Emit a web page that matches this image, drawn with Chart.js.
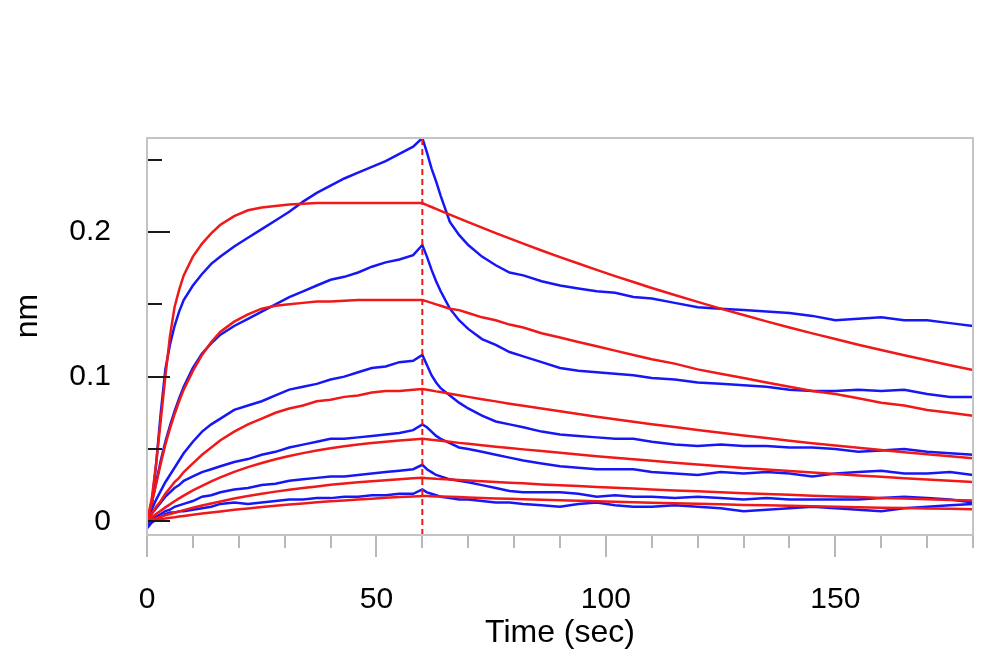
<!DOCTYPE html>
<html>
<head>
<meta charset="utf-8">
<title>Binding kinetics</title>
<script src="https://cdn.jsdelivr.net/npm/chart.js@4.4.1/dist/chart.umd.min.js"></script>
<style>
  html, body { margin: 0; padding: 0; background: #fff; }
  #wrap { width: 1000px; height: 670px; position: relative; }
</style>
</head>
<body>
<div id="wrap"><canvas id="myChart"></canvas></div>
<script>

// Time axis (seconds) shared by every trace
var timeSec = [0, 1, 2, 3, 4, 5, 6, 7, 8, 10, 12, 14, 16, 19, 22, 25, 28, 31, 34, 37, 40, 43, 46, 49, 52, 55, 58, 60,
  61, 62, 63, 64, 66, 68, 70, 73, 76, 79, 82, 86, 90, 94, 98, 102, 106, 110,
  115, 120, 125, 130, 135, 140, 145, 150, 155, 160, 165, 170, 175, 180];

// Measured responses (nm), blue, highest concentration first
var meas1 = [-0.004, 0.010, 0.040, 0.075, 0.105, 0.122, 0.135, 0.145, 0.153, 0.163, 0.171, 0.178, 0.183, 0.190, 0.196, 0.202, 0.208, 0.214, 0.221, 0.227, 0.232, 0.237, 0.241, 0.245, 0.249, 0.254, 0.259, 0.265,
  0.255, 0.244, 0.235, 0.225, 0.207, 0.198, 0.191, 0.183, 0.177, 0.172, 0.170, 0.166, 0.163, 0.161, 0.159, 0.158, 0.155, 0.154,
  0.151, 0.148, 0.147, 0.146, 0.145, 0.144, 0.142, 0.139, 0.140, 0.141, 0.139, 0.139, 0.137, 0.135];
var meas2 = [-0.003, 0.012, 0.027, 0.042, 0.055, 0.066, 0.076, 0.085, 0.093, 0.106, 0.116, 0.123, 0.129, 0.135, 0.140, 0.145, 0.150, 0.155, 0.159, 0.163, 0.167, 0.169, 0.172, 0.176, 0.179, 0.181, 0.184, 0.191,
  0.183, 0.174, 0.166, 0.159, 0.147, 0.139, 0.133, 0.126, 0.122, 0.117, 0.114, 0.110, 0.106, 0.104, 0.103, 0.102, 0.101, 0.099,
  0.098, 0.096, 0.095, 0.094, 0.093, 0.091, 0.090, 0.090, 0.091, 0.090, 0.091, 0.088, 0.086, 0.086];
var meas3 = [-0.002, 0.008, 0.015, 0.021, 0.027, 0.032, 0.037, 0.042, 0.047, 0.055, 0.062, 0.067, 0.071, 0.077, 0.080, 0.083, 0.087, 0.091, 0.093, 0.095, 0.098, 0.100, 0.103, 0.106, 0.107, 0.110, 0.111, 0.115,
  0.108, 0.101, 0.096, 0.092, 0.087, 0.082, 0.078, 0.073, 0.069, 0.067, 0.065, 0.062, 0.060, 0.059, 0.058, 0.057, 0.057, 0.055,
  0.053, 0.052, 0.053, 0.052, 0.052, 0.051, 0.051, 0.050, 0.048, 0.049, 0.050, 0.048, 0.047, 0.046];
var meas4 = [-0.003, 0.005, 0.009, 0.013, 0.017, 0.020, 0.023, 0.025, 0.028, 0.031, 0.034, 0.036, 0.038, 0.041, 0.043, 0.046, 0.048, 0.051, 0.053, 0.055, 0.057, 0.057, 0.058, 0.059, 0.060, 0.061, 0.063, 0.067,
  0.065, 0.062, 0.059, 0.057, 0.054, 0.051, 0.050, 0.048, 0.046, 0.044, 0.042, 0.040, 0.038, 0.037, 0.036, 0.036, 0.036, 0.034,
  0.033, 0.032, 0.034, 0.033, 0.034, 0.033, 0.031, 0.033, 0.034, 0.035, 0.033, 0.033, 0.034, 0.032];
var meas5 = [-0.004, 0.002, 0.003, 0.005, 0.007, 0.008, 0.010, 0.011, 0.012, 0.014, 0.017, 0.018, 0.020, 0.022, 0.023, 0.025, 0.026, 0.028, 0.029, 0.030, 0.031, 0.031, 0.032, 0.033, 0.034, 0.035, 0.036, 0.039,
  0.036, 0.034, 0.032, 0.031, 0.029, 0.028, 0.027, 0.025, 0.023, 0.021, 0.020, 0.020, 0.020, 0.019, 0.017, 0.018, 0.017, 0.017,
  0.016, 0.017, 0.016, 0.015, 0.016, 0.015, 0.015, 0.015, 0.015, 0.016, 0.017, 0.016, 0.015, 0.013];
var meas6 = [-0.005, -0.001, 0.001, 0.003, 0.005, 0.006, 0.006, 0.007, 0.007, 0.008, 0.009, 0.010, 0.012, 0.013, 0.012, 0.013, 0.014, 0.015, 0.015, 0.016, 0.016, 0.017, 0.017, 0.018, 0.018, 0.019, 0.019, 0.022,
  0.020, 0.019, 0.018, 0.017, 0.016, 0.015, 0.015, 0.014, 0.013, 0.013, 0.012, 0.011, 0.010, 0.012, 0.013, 0.011, 0.010, 0.010,
  0.011, 0.010, 0.009, 0.007, 0.008, 0.009, 0.010, 0.009, 0.008, 0.007, 0.009, 0.010, 0.011, 0.012];

// Fitted curves (nm), red
var fit1 = [0, 0.015, 0.040, 0.070, 0.100, 0.128, 0.148, 0.160, 0.170, 0.183, 0.192, 0.199, 0.205, 0.211, 0.215, 0.217, 0.218, 0.219, 0.2195, 0.22, 0.22, 0.22, 0.22, 0.22, 0.22, 0.22, 0.22, 0.22,
  0.2186, 0.2173, 0.216, 0.2146, 0.212, 0.2094, 0.2068, 0.203, 0.1992, 0.1956, 0.192, 0.1872, 0.1826, 0.1782, 0.1738, 0.1695, 0.1654, 0.1613,
  0.1564, 0.1517, 0.147, 0.1426, 0.1382, 0.134, 0.1299, 0.126, 0.1221, 0.1184, 0.1148, 0.1113, 0.1079, 0.1046];
var fit2 = [0, 0.012, 0.026, 0.040, 0.053, 0.064, 0.074, 0.083, 0.091, 0.104, 0.115, 0.124, 0.131, 0.138, 0.143, 0.147, 0.149, 0.150, 0.151, 0.152, 0.152, 0.1525, 0.153, 0.153, 0.153, 0.153, 0.153, 0.153,
  0.152, 0.151, 0.150, 0.149, 0.147, 0.146, 0.144, 0.141, 0.139, 0.136, 0.134, 0.130, 0.127, 0.124, 0.121, 0.118, 0.115, 0.112,
  0.109, 0.105, 0.102, 0.099, 0.096, 0.093, 0.090, 0.088, 0.085, 0.082, 0.080, 0.077, 0.075, 0.073];
var fit3 = [0, 0.005, 0.010, 0.014, 0.019, 0.023, 0.027, 0.030, 0.034, 0.040, 0.046, 0.051, 0.056, 0.062, 0.067, 0.071, 0.075, 0.078, 0.080, 0.083, 0.084, 0.086, 0.087, 0.089, 0.090, 0.090, 0.091, 0.0915,
  0.091, 0.0904, 0.0898, 0.0893, 0.0882, 0.0871, 0.086, 0.0844, 0.0829, 0.0813, 0.0798, 0.0779, 0.076, 0.0741, 0.0723, 0.0705, 0.0688, 0.0671,
  0.0651, 0.0631, 0.0612, 0.0593, 0.0575, 0.0557, 0.054, 0.0524, 0.0508, 0.0492, 0.0477, 0.0463, 0.0449, 0.0435];
var fit4 = [0, 0.0026, 0.005, 0.0073, 0.0096, 0.0117, 0.0138, 0.0158, 0.0177, 0.0213, 0.0245, 0.0276, 0.0303, 0.0341, 0.0374, 0.0403, 0.0429, 0.0451, 0.0471, 0.0489, 0.0505, 0.0518, 0.053, 0.0541, 0.055, 0.0559, 0.0566, 0.057,
  0.0567, 0.0563, 0.056, 0.0556, 0.0549, 0.0542, 0.0536, 0.0526, 0.0516, 0.0507, 0.0497, 0.0485, 0.0473, 0.0462, 0.045, 0.0439, 0.0428, 0.0418,
  0.0405, 0.0393, 0.0381, 0.0369, 0.0358, 0.0347, 0.0337, 0.0326, 0.0316, 0.0307, 0.0297, 0.0288, 0.028, 0.0271];
var fit5 = [0, 0.0011, 0.0021, 0.0031, 0.0041, 0.005, 0.0059, 0.0068, 0.0077, 0.0093, 0.0109, 0.0123, 0.0137, 0.0157, 0.0174, 0.019, 0.0205, 0.0218, 0.023, 0.0241, 0.0252, 0.0261, 0.027, 0.0277, 0.0284, 0.0291, 0.0297, 0.030,
  0.0298, 0.0296, 0.0294, 0.0293, 0.0289, 0.0285, 0.0282, 0.0277, 0.0272, 0.0267, 0.0262, 0.0255, 0.0249, 0.0243, 0.0237, 0.0231, 0.0226, 0.022,
  0.0213, 0.0207, 0.0201, 0.0194, 0.0188, 0.0183, 0.0177, 0.0172, 0.0167, 0.0161, 0.0157, 0.0152, 0.0147, 0.0143];
var fit6 = [0, 0.0005, 0.001, 0.0015, 0.0019, 0.0024, 0.0028, 0.0033, 0.0037, 0.0045, 0.0053, 0.0061, 0.0068, 0.0079, 0.0089, 0.0098, 0.0107, 0.0116, 0.0123, 0.0131, 0.0138, 0.0144, 0.015, 0.0156, 0.0162, 0.0167, 0.0172, 0.0175,
  0.0174, 0.0173, 0.0172, 0.0171, 0.0169, 0.0167, 0.0164, 0.0161, 0.0158, 0.0156, 0.0153, 0.0149, 0.0145, 0.0142, 0.0138, 0.0135, 0.0132, 0.0128,
  0.0124, 0.0121, 0.0117, 0.0113, 0.011, 0.0107, 0.0103, 0.01, 0.0097, 0.0094, 0.0091, 0.0089, 0.0086, 0.0083];

// End of association step (dashed marker)
var assocEnd = 60;

// Axis ranges and ticks
var xMin = 0, xMax = 180;
var yMin = -0.0095, yMax = 0.265;
var xLabelTicks = [0, 50, 100, 150];
var xTickMarks = [0, 10, 20, 30, 40, 50, 60, 70, 80, 90, 100, 110, 120, 130, 140, 150, 160, 170, 180];
var yLabelTicks = [0, 0.1, 0.2];
var yTickMarks = [0, 0.05, 0.1, 0.15, 0.2, 0.25];

var BLUE = '#1717f5';
var RED = '#f01818';
var FONT = "'Liberation Sans', Arial, sans-serif";

function pairs(vals) {
  return timeSec.map(function (t, i) { return { x: t, y: vals[i] }; });
}

function line(vals, color) {
  return {
    data: pairs(vals),
    borderColor: color,
    borderWidth: 2.5,
    pointRadius: 0,
    tension: 0,
    fill: false
  };
}

// red fits first so they end up drawn on top
var datasets = [
  {
    data: [{ x: assocEnd, y: yMin }, { x: assocEnd, y: yMax }],
    borderColor: RED,
    borderWidth: 2,
    borderDash: [6, 4],
    pointRadius: 0,
    fill: false
  },
  line(fit1, RED), line(fit2, RED), line(fit3, RED),
  line(fit4, RED), line(fit5, RED), line(fit6, RED),
  line(meas1, BLUE), line(meas2, BLUE), line(meas3, BLUE),
  line(meas4, BLUE), line(meas5, BLUE), line(meas6, BLUE)
];

// frame, tick marks and the y axis title
var framePlugin = {
  id: 'frame',
  afterDatasetsDraw: function (chart) {
    var ctx = chart.ctx;
    var a = chart.chartArea;
    var xs = chart.scales.x, ys = chart.scales.y;
    ctx.save();

    // x ticks below the frame
    ctx.strokeStyle = '#b8b8b8';
    ctx.lineWidth = 2;
    xTickMarks.forEach(function (v) {
      var px = Math.round(xs.getPixelForValue(v));
      var len = xLabelTicks.indexOf(v) >= 0 ? 22 : 13;
      ctx.beginPath();
      ctx.moveTo(px, a.bottom);
      ctx.lineTo(px, a.bottom + len);
      ctx.stroke();
    });

    // y ticks inside the frame
    ctx.strokeStyle = '#1a1a1a';
    yTickMarks.forEach(function (v) {
      var py = Math.round(ys.getPixelForValue(v));
      var len = yLabelTicks.indexOf(v) >= 0 ? 23 : 15;
      ctx.beginPath();
      ctx.moveTo(a.left, py);
      ctx.lineTo(a.left + len, py);
      ctx.stroke();
    });

    // frame
    ctx.strokeStyle = '#c4c4c4';
    ctx.lineWidth = 2;
    ctx.strokeRect(a.left, a.top, a.right - a.left, a.bottom - a.top);

    // y title
    ctx.fillStyle = '#000';
    ctx.font = '32px ' + FONT;
    ctx.textAlign = 'center';
    ctx.textBaseline = 'middle';
    ctx.translate(28, 316);
    ctx.rotate(-Math.PI / 2);
    ctx.fillText('nm', 0, 0);
    ctx.restore();
  }
};

var ctx = document.getElementById('myChart');
var myChart = new Chart(ctx, {
  type: 'line',
  data: { datasets: datasets },
  plugins: [framePlugin],
  options: {
    responsive: true,
    maintainAspectRatio: false,
    animation: false,
    layout: { padding: { top: 138, right: 27, left: 0, bottom: 0 } },
    plugins: {
      legend: { display: false },
      tooltip: { enabled: false }
    },
    scales: {
      x: {
        type: 'linear',
        min: xMin,
        max: xMax,
        grid: { display: false },
        border: { display: false },
        afterBuildTicks: function (s) {
          s.ticks = xLabelTicks.map(function (v) { return { value: v }; });
        },
        afterFit: function (s) { s.height = 135; },
        ticks: {
          font: { family: FONT, size: 30 },
          color: '#000',
          padding: 39,
          maxRotation: 0,
          autoSkip: false
        },
        title: {
          display: true,
          text: 'Time (sec)',
          color: '#000',
          font: { family: FONT, size: 32 },
          padding: { top: 0, bottom: 18 }
        }
      },
      y: {
        type: 'linear',
        min: yMin,
        max: yMax,
        grid: { display: false },
        border: { display: false },
        afterBuildTicks: function (s) {
          s.ticks = yLabelTicks.map(function (v) { return { value: v }; });
        },
        afterFit: function (s) { s.width = 147; },
        ticks: {
          font: { family: FONT, size: 30 },
          color: '#000',
          padding: 28,
          callback: function (v) { return v === 0 ? '0' : v.toFixed(1); }
        }
      }
    }
  }
});
</script>
</body>
</html>
